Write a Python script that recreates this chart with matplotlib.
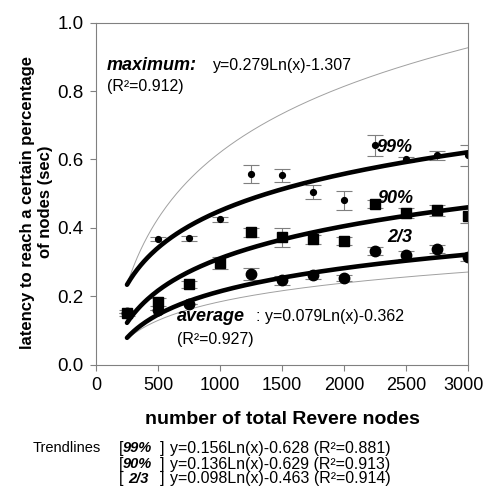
import numpy as np
import matplotlib
matplotlib.use("Agg")
import matplotlib.pyplot as plt
from matplotlib.transforms import ScaledTranslation

plt.rcParams['font.family'] = ['Liberation Sans', 'DejaVu Sans']

# data (nan = no visible point)
nodes = [250, 500, 750, 1000, 1250, 1500, 1750, 2000, 2250, 2500, 2750, 3000]

p99 = [np.nan, 0.366, 0.369, 0.425, 0.558, 0.553, 0.504, 0.480, 0.641, 0.600, 0.612, 0.612]
p99_err = [0.0, 0.006, 0.008, 0.007, 0.027, 0.019, 0.020, 0.027, 0.031, 0.008, 0.013, 0.030]

p90 = [0.150, 0.182, 0.235, 0.296, 0.387, 0.372, 0.366, 0.361, 0.469, 0.443, 0.451, 0.434]
p90_err = [0.008, 0.012, 0.010, 0.018, 0.013, 0.027, 0.012, 0.011, 0.012, 0.015, 0.016, 0.020]

p23 = [0.150, 0.160, 0.178, np.nan, 0.264, 0.247, 0.261, 0.253, 0.331, 0.320, 0.337, 0.314]
p23_err = [0.0, 0.0, 0.0, 0.0, 0.018, 0.013, 0.011, 0.009, 0.012, 0.011, 0.012, 0.012]

# log trendlines  y = a*ln(x) + b
fit_99 = (0.156, -0.628)
fit_90 = (0.136, -0.629)
fit_23 = (0.098, -0.463)
fit_max = (0.279, -1.307)
fit_avg = (0.079, -0.362)

xticks = [0, 500, 1000, 1500, 2000, 2500, 3000]
yticks = [0.0, 0.2, 0.4, 0.6, 0.8, 1.0]

W, H = 486, 488
fig = plt.figure(figsize=(W / 100, H / 100), dpi=100)
ax = fig.add_axes([96 / W, 1 - 364.5 / H, 372 / W, 341.8 / H])

xs = np.linspace(250, 3000, 200)

def trend(f):
    return f[0] * np.log(xs) + f[1]

# thin gray max / average trendlines
ax.plot(xs, trend(fit_max), color='#a0a0a0', lw=0.7)
ax.plot(xs, trend(fit_avg), color='#a0a0a0', lw=0.7)

ecol = '#7f7f7f'
ax.errorbar(nodes, p23, yerr=p23_err, fmt='o', ms=7.5, color='black',
            ecolor=ecol, elinewidth=0.8, capsize=5.5, capthick=0.8)
ax.errorbar(nodes, p90, yerr=p90_err, fmt='s', ms=7, color='black',
            ecolor=ecol, elinewidth=0.8, capsize=5.5, capthick=0.8)
ax.errorbar(nodes, p99, yerr=p99_err, fmt='o', ms=4.2, color='black',
            ecolor=ecol, elinewidth=0.8, capsize=5.5, capthick=0.8)

# thick trendlines
for f in (fit_99, fit_90, fit_23):
    ax.plot(xs, trend(f), color='black', lw=3.3, solid_capstyle='round')

ax.set_xlim(0, 3000)
ax.set_ylim(0, 1.0)
ax.set_xticks(xticks)
ax.set_yticks(yticks)
ax.set_yticklabels(['%.1f' % v for v in yticks])

for s in ax.spines.values():
    s.set_color('#808080')
    s.set_linewidth(0.8)
ax.tick_params(direction='out', length=4, width=0.8, color='#808080',
               labelsize=13.5, pad=5)
ax.tick_params(axis='x', labelsize=13)
# keep the last x label inside the picture
last = ax.get_xticklabels()[-1]
last.set_transform(last.get_transform() + ScaledTranslation(-4 / 100, 0, fig.dpi_scale_trans))

ax.set_xlabel('number of total Revere nodes', fontsize=14, fontweight='bold',
              va='center')
ax.xaxis.set_label_coords(0.5, -0.162)
ax.set_ylabel('latency to reach a certain percentage\nof nodes (sec)',
              fontsize=12, fontweight='bold', va='center', ha='center',
              linespacing=1.25)
ax.yaxis.set_label_coords(-0.16, 0.475)

# annotations inside the plot
bi = dict(fontweight='bold', fontstyle='italic', fontsize=13, va='center')
rg = dict(fontsize=11.5, va='center')
ax.text(88, 0.874, 'maximum:', **bi)
ax.text(947, 0.874, 'y=0.279Ln(x)-1.307', **rg)
ax.text(88, 0.813, '(R\u00b2=0.912)', **rg)
ax.text(2262, 0.635, '99%', **bi)
ax.text(2270, 0.486, '90%', **bi)
ax.text(2350, 0.372, '2/3', **bi)
ax.text(650, 0.139, 'average', **bi)
ax.text(1291, 0.139, ': y=0.079Ln(x)-0.362', **rg)
ax.text(650, 0.074, '(R\u00b2=0.927)', **rg)

# trendline legend below the axes
def ft(px, py, s, **kw):
    fig.text(px / W, 1 - py / H, s, va='center', **kw)

ft(33, 448, 'Trendlines', fontsize=10.5)
rows = [('99%', 123, 'y=0.156Ln(x)-0.628 (R\u00b2=0.881)', 448),
        ('90%', 123, 'y=0.136Ln(x)-0.629 (R\u00b2=0.913)', 464),
        ('2/3', 128, 'y=0.098Ln(x)-0.463 (R\u00b2=0.914)', 479)]
for lab, lx, eq, py in rows:
    ft(119, py, '[', fontsize=11.5)
    ft(lx, py, lab, fontsize=10.5, fontweight='bold', fontstyle='italic')
    ft(160, py, ']', fontsize=11.5)
    ft(170, py, eq, fontsize=11.5)

fig.savefig('out.png', dpi=100)
